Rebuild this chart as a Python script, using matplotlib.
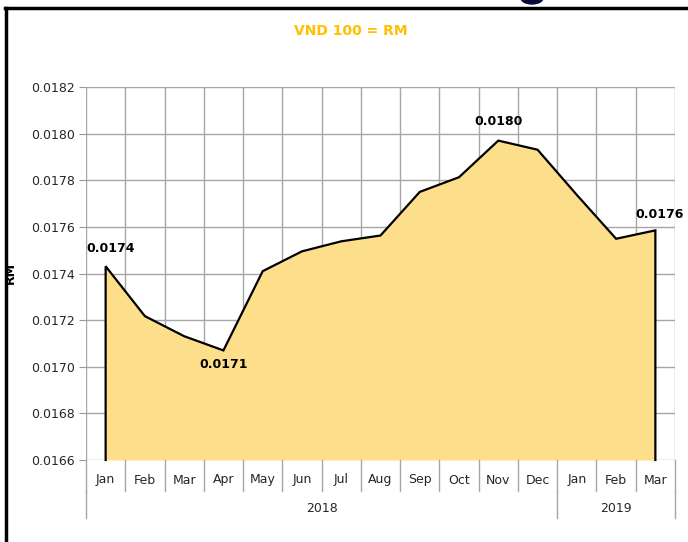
import matplotlib
matplotlib.use("Agg")
import matplotlib.pyplot as plt
from matplotlib.patches import Ellipse
from matplotlib.lines import Line2D
import numpy as np

months = ["Jan", "Feb", "Mar", "Apr", "May", "Jun", "Jul", "Aug", "Sep", "Oct", "Nov", "Dec", "Jan", "Feb", "Mar"]
years = ["2018", "2019"]
year_counts = [12, 3]
rates = [0.017431, 0.017217, 0.017131, 0.017070, 0.017410, 0.017495, 0.017538, 0.017563,
         0.017750, 0.017813, 0.017970, 0.017931, 0.017737, 0.017549, 0.017585]
label_idx = [0, 3, 10, 14]
label_text = ["0.0174", "0.0171", "0.0180", "0.0176"]
y_ticks = [0.0166, 0.0168, 0.0170, 0.0172, 0.0174, 0.0176, 0.0178, 0.0180, 0.0182]

W, H = 688, 542
fig = plt.figure(figsize=(W / 100, H / 100), dpi=100)
ax = fig.add_axes([86 / W, 1 - 460 / H, (675 - 86) / W, (460 - 87) / H])

n = len(months)
x = np.arange(n)
ymin, ymax = y_ticks[0], y_ticks[-1]

ax.fill_between(x, ymin, rates, color="#FDDF8B", zorder=2, linewidth=0)
ax.plot(np.concatenate([[x[0]], x, [x[-1]]]),
        np.concatenate([[ymin], rates, [ymin]]),
        color="black", lw=1.6, zorder=3, solid_joinstyle="miter", clip_on=False)

ax.set_xlim(-0.5, n - 0.5)
ax.set_ylim(ymin, ymax)
ax.set_yticks(y_ticks)
ax.set_yticklabels([f"{v:.4f}" for v in y_ticks], fontsize=9, color="#262626")
ax.tick_params(axis="y", length=5, color="#999999", pad=3)

# grid
for b in np.arange(-0.5, n, 1.0):
    ax.axvline(b, color="#A6A6A6", lw=1.0, zorder=1)
for t in y_ticks:
    ax.axhline(t, color="#A6A6A6", lw=1.0, zorder=1)
for s in ax.spines.values():
    s.set_visible(False)

ax.set_xticks([])
# month labels and separators
trans = ax.get_xaxis_transform()
for i, m in enumerate(months):
    ax.text(i, -20 / 373, m, transform=trans, ha="center", va="center", fontsize=9, color="#262626")
for b in np.arange(-0.5, n, 1.0):
    ax.add_line(Line2D([b, b], [0, -31 / 373], transform=trans, color="#A6A6A6", lw=1.0, clip_on=False))
# year row
start = -0.5
for yr, c in zip(years, year_counts):
    end = start + c
    ax.text((start + end) / 2, -48 / 373, yr, transform=trans, ha="center", va="center", fontsize=9, color="#262626")
    start = end
bounds = [-0.5] + list(np.cumsum(year_counts) - 0.5)
for b in bounds:
    ax.add_line(Line2D([b, b], [-31 / 373, -58 / 373], transform=trans, color="#A6A6A6", lw=1.0, clip_on=False))

# data labels
offsets = {0: (-0.5, 0.000077, "left"), 3: (0.0, -0.00006, "center"), 10: (0.0, 0.00008, "center"), 14: (0.1, 0.00007, "center")}
for i, txt in zip(label_idx, label_text):
    dx, dy, ha = offsets[i]
    ax.text(i + dx, rates[i] + dy, txt, ha=ha, va="center",
            fontsize=9, fontweight="bold", color="black", zorder=5)

ax.set_ylabel("RM", fontsize=9, fontweight="bold", labelpad=2)
ax.yaxis.set_label_coords(-69 / 589, 0.5)

fig.text(351 / W, 1 - 31 / H, "VND 100 = RM", ha="center", va="center", fontsize=10,
         fontweight="bold", color="#FFC000")

# border lines
fig.add_artist(Line2D([6 / W, 6 / W], [0, 1 - 8 / H], transform=fig.transFigure, color="black", lw=2.5))
fig.add_artist(Line2D([5 / W, 1], [1 - 8 / H, 1 - 8 / H], transform=fig.transFigure, color="black", lw=2.5))
fig.add_artist(Ellipse((532 / W, 1 + 2 / H), 22 / W, 12 / H, transform=fig.transFigure, color="#0B0B3B", clip_on=False))

fig.savefig("out.png", dpi=100)
